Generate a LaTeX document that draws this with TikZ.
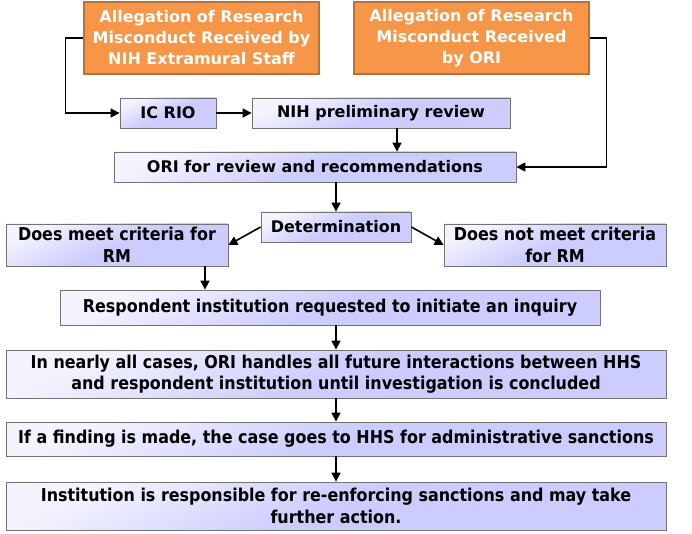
\documentclass[tikz,border=0pt]{standalone}
\usepackage{fontspec}
\setmainfont{DejaVu Sans}
\newfontfamily\narrowfont{DejaVu Sans}[FakeStretch=0.9]
\usetikzlibrary{arrows.meta,calc}

\definecolor{orangefill}{HTML}{F79646}
\definecolor{orangeline}{HTML}{B8713A}
\definecolor{lavender}{HTML}{CCCCFF}
\definecolor{paler}{HTML}{F4F4FF}

\begin{document}
\begin{tikzpicture}[x=1pt, y=-1pt,
    every node/.style={font=\fontsize{16}{21}\selectfont\bfseries, align=center, inner sep=0pt},
    source/.style={draw=orangeline, line width=1.3pt, fill=orangefill, text=white},
    stepbox/.style={draw=black!55, line width=0.8pt, top color=paler, bottom color=lavender, middle color=lavender, shading angle=25},
    narrow/.style={font=\narrowfont\fontsize{17.7}{21.5}\selectfont\bfseries},
    arr/.style={line width=1.6pt, -{Triangle[length=9pt, width=9pt]}}]
    \useasboundingbox (0,0) rectangle (692,534);
    % sources of the allegation
    \node[source, minimum width=235, minimum height=72] (nihalleg) at (201.5,38) {Allegation of Research\\Misconduct Received by\\NIH Extramural Staff};
    \node[source, minimum width=235, minimum height=72] (orialleg) at (471.5,38) {Allegation of Research\\Misconduct Received\\by ORI};
    % review chain
    \node[stepbox, minimum width=96, minimum height=30] (icrio) at (168,113) {IC RIO};
    \node[stepbox, minimum width=258, minimum height=30] (prelim) at (381,113) {NIH preliminary review};
    \node[stepbox, minimum width=402, minimum height=30] (orirev) at (315,167) {ORI for review and recommendations};
    \node[stepbox, minimum width=150, minimum height=30] (determ) at (336,227) {Determination};
    \node[stepbox, narrow, minimum width=222, minimum height=42] (meet) at (117,245) {Does meet criteria for\\RM};
    \node[stepbox, narrow, minimum width=222, minimum height=42] (notmeet) at (555,245) {Does not meet criteria\\for RM};
    \node[stepbox, narrow, minimum width=540, minimum height=35] (inquiry) at (330,307.5) {Respondent institution requested to initiate an inquiry};
    \node[stepbox, narrow, minimum width=660, minimum height=48] (handles) at (336,374) {In nearly all cases, ORI handles all future interactions between HHS\\and respondent institution until investigation is concluded};
    \node[stepbox, narrow, minimum width=660, minimum height=34] (finding) at (336,439) {If a finding is made, the case goes to HHS for administrative sanctions};
    \node[stepbox, narrow, minimum width=660, minimum height=48] (enforce) at (336,506) {Institution is responsible for re-enforcing sanctions and may take\\further action.};
    % connectors
    \draw[arr] (nihalleg.west) -- ++(-18,0) |- (icrio.west);
    \draw[arr] (icrio) -- (prelim);
    \draw[arr] ([xshift=16]prelim.south) -- ([xshift=16]prelim.south |- orirev.north);
    \draw[arr] (orialleg.east) -- ++(17,0) |- (orirev.east);
    \draw[arr] (orirev.south -| determ.north) -- (determ.north);
    \draw[arr] (determ.west) -- (meet.east);
    \draw[arr] (determ.east) -- (notmeet.west);
    \draw[arr] ([xshift=88]meet.south) -- ([xshift=88]meet.south |- inquiry.north);
    \draw[arr] (inquiry.south -| handles.north) -- (handles.north);
    \draw[arr] (handles) -- (finding);
    \draw[arr] (finding) -- (enforce);
\end{tikzpicture}
\end{document}
